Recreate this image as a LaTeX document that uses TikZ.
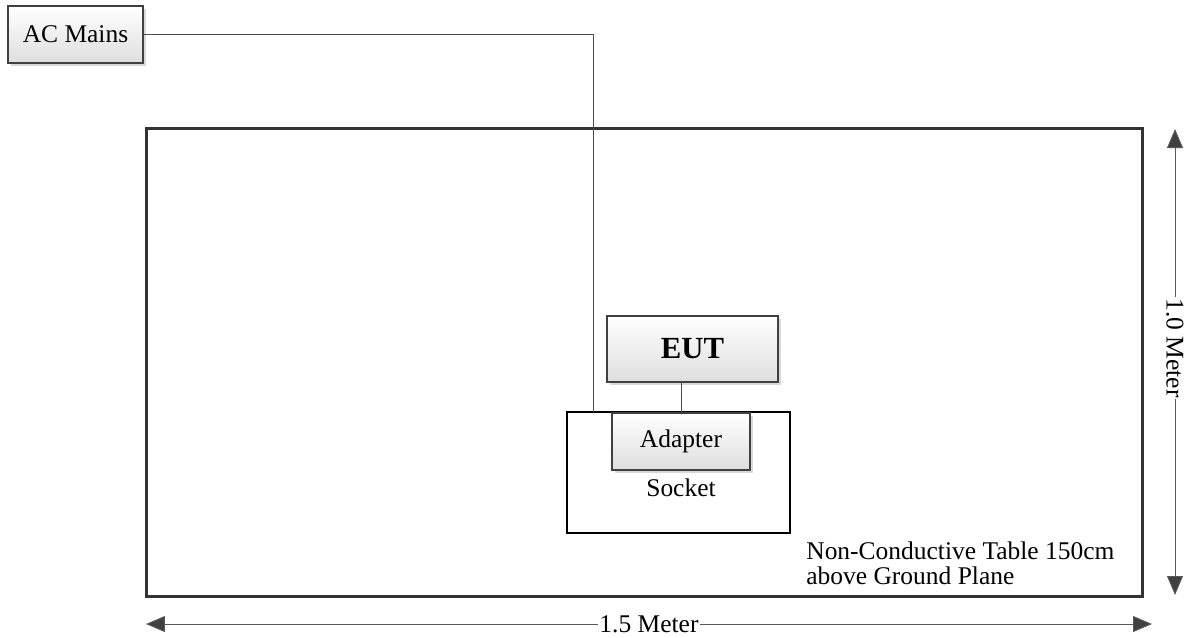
\documentclass[tikz,border=0pt]{standalone}
\usepackage{fontspec}
\setmainfont{Liberation Serif}
\usetikzlibrary{shadows,arrows.meta,positioning}

\tikzset{
  unit/.style={draw=black!75, line width=1.1pt, top color=white, bottom color=black!13,
    drop shadow={shadow xshift=0.06cm, shadow yshift=-0.06cm, fill=black!15, opacity=1},
    inner sep=0pt, font=\fontsize{14.5}{16}\selectfont},
  frame/.style={draw=black!80, line width=1.7pt, inner sep=0pt},
  socketbox/.style={draw=black, line width=0.8pt, inner sep=0pt},
  wire/.style={draw=black!70, line width=0.55pt},
  dim/.style={draw=black!65, line width=0.55pt,
    {Triangle[length=0.38cm, width=0.32cm, fill=black!75]}-{Triangle[length=0.38cm, width=0.32cm, fill=black!75]}},
  dimlabel/.style={fill=white, inner sep=1pt, font=\fontsize{14.5}{16}\selectfont}
}

\begin{document}
\begin{tikzpicture}[x=0.02cm, y=-0.02cm]
\useasboundingbox (0,0) rectangle (1189,637);

% Define nodes
\path (644.5,362.5)
node[frame, minimum width=19.94cm, minimum height=9.38cm] (table) {}
(678.5,472.5)
node[socketbox, minimum width=4.46cm, minimum height=2.42cm] (socket) {}
(socket) +(2.5,-31) node[unit, minimum width=2.76cm, minimum height=1.14cm] (adapter) {Adapter}
(adapter) +(11.5,-92.5) node[unit, minimum width=3.42cm, minimum height=1.32cm,
  font=\fontsize{17.5}{19}\bfseries] (eut) {EUT}
(75.5,34.5) node[unit, minimum width=2.7cm, minimum height=1.14cm] (ac) {AC Mains}
(adapter.south) +(0,17) node[font=\fontsize{14.5}{16}\selectfont] (socket-lbl) {Socket}
(806,563) node[anchor=west, align=left, inner sep=0pt,
  font=\fontsize{14.5}{14.2}\selectfont] (table-lbl)
  {Non-Conductive Table 150cm\\above Ground Plane}
(593,412) coordinate (drop)
(146,624) coordinate (w1)
(1152,624) coordinate (w2)
(1175,129) coordinate (h1)
(1175,595) coordinate (h2)
;

% Wiring
\draw[wire] (ac.east) -| (drop);
\draw[wire] (adapter.north |- eut.south) -- (adapter.north);

% Dimensions
\draw[dim] (w1) -- node[dimlabel] (width) {1.5 Meter} (w2);
\draw[dim] (h1) -- node[dimlabel, rotate=-90, yshift=0pt, xshift=-8pt] (height) {1.0 Meter} (h2);

\end{tikzpicture}
\end{document}
